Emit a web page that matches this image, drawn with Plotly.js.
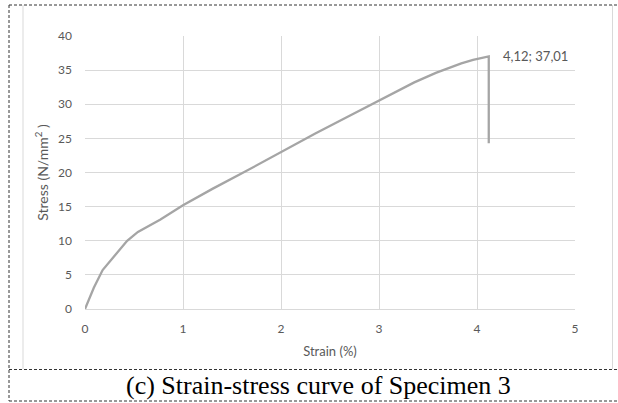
<!DOCTYPE html>
<html>
<head>
<meta charset="utf-8">
<script src="https://cdn.plot.ly/plotly-3.0.1.min.js"></script>
<style>
  html, body { margin: 0; padding: 0; background: #fff; }
  #chart { width: 618px; height: 403px; }
</style>
</head>
<body>
<div id="chart"></div>
<script>
// Tensile test record of specimen 3
const strain = [0, 0.09, 0.18, 0.30, 0.43, 0.54, 0.65, 0.77, 1.00, 1.30, 1.63, 2.00, 2.35, 2.71, 3.00, 3.36, 3.58, 3.72, 3.84, 3.96, 4.05, 4.12, 4.12];
const stress = [0, 3.1, 5.7, 7.8, 10.0, 11.3, 12.2, 13.1, 15.2, 17.6, 20.1, 23.0, 25.7, 28.4, 30.5, 33.2, 34.6, 35.4, 36.0, 36.5, 36.8, 37.01, 24.3];
const peakStrain = 4.12;
const peakStress = 37.01;
const xTicks = [0, 1, 2, 3, 4, 5];
const yTicks = [0, 5, 10, 15, 20, 25, 30, 35, 40];
const caption = '(c) Strain-stress curve of Specimen 3';

const W = 618, H = 403;
const M = { l: 85, r: 43, t: 36, b: 94 };
const pw = W - M.l - M.r, ph = H - M.t - M.b;
// pixel -> paper coordinates
const px = v => (v - M.l) / pw;
const py = v => (H - M.b - v) / ph;

const family = 'Lato, "Open Sans", sans-serif';
const tickFont = { family: family, size: 12, color: '#595959' };
const xTitleFont = { family: family, size: 13, color: '#595959' };
const yTitleFont = { family: family, size: 14, color: '#595959' };
const grid = '#d9d9d9';
const dash = { color: '#333333', width: 1, dash: '3px,2px' };

const trace = {
  x: strain,
  y: stress,
  type: 'scatter',
  mode: 'lines',
  line: { color: '#a5a5a5', width: 2.3 },
  hoverinfo: 'skip'
};

const fmt = v => v.toFixed(2).replace('.', ',');

const layout = {
  width: W,
  height: H,
  margin: M,
  paper_bgcolor: '#ffffff',
  plot_bgcolor: '#ffffff',
  showlegend: false,
  font: tickFont,
  xaxis: {
    range: [0, 5],
    tickvals: xTicks,
    ticktext: xTicks.map(String),
    showgrid: true,
    gridcolor: grid,
    gridwidth: 1,
    zeroline: false,
    showline: true,
    linecolor: grid,
    linewidth: 1,
    ticks: '',
    ticklabelstandoff: 9,
    tickfont: tickFont,
    title: { text: 'Strain (%)', font: xTitleFont, standoff: 11 },
    fixedrange: true
  },
  yaxis: {
    range: [0, 40],
    tickvals: yTicks,
    ticktext: yTicks.map(String),
    showgrid: true,
    gridcolor: grid,
    gridwidth: 1,
    zeroline: false,
    showline: false,
    ticks: '',
    ticklabelstandoff: 12,
    tickfont: tickFont,
    title: { text: 'Stress (N/mm<sup>2</sup> )', font: yTitleFont, standoff: 6 },
    fixedrange: true
  },
  annotations: [
    {
      x: peakStrain, y: peakStress, xref: 'x', yref: 'y',
      text: fmt(peakStrain) + '; ' + fmt(peakStress),
      showarrow: false, xanchor: 'left', yanchor: 'middle',
      xshift: 12, yshift: 0,
      font: { family: family, size: 13, color: '#595959' }
    },
    {
      x: px(318), y: py(386), xref: 'paper', yref: 'paper',
      text: caption, showarrow: false,
      xanchor: 'center', yanchor: 'middle',
      font: { family: '"Liberation Serif", "Times New Roman", serif', size: 26, color: '#000000' }
    }
  ],
  shapes: [
    // chart area side borders
    { type: 'line', xref: 'paper', yref: 'paper', x0: px(23), x1: px(23), y0: py(5), y1: py(369), line: { color: grid, width: 1 } },
    { type: 'line', xref: 'paper', yref: 'paper', x0: px(612.5), x1: px(612.5), y0: py(5), y1: py(369), line: { color: grid, width: 1 } },
    // dashed frame
    { type: 'line', xref: 'paper', yref: 'paper', x0: px(9), x1: px(618), y0: py(5), y1: py(5), line: dash },
    { type: 'line', xref: 'paper', yref: 'paper', x0: px(9), x1: px(9), y0: py(5), y1: py(401), line: dash },
    { type: 'line', xref: 'paper', yref: 'paper', x0: px(9), x1: px(618), y0: py(369.5), y1: py(369.5), line: dash },
    { type: 'line', xref: 'paper', yref: 'paper', x0: px(9), x1: px(618), y0: py(401), y1: py(401), line: dash }
  ]
};

Plotly.newPlot('chart', [trace], layout, { displayModeBar: false, staticPlot: true });
</script>
</body>
</html>
